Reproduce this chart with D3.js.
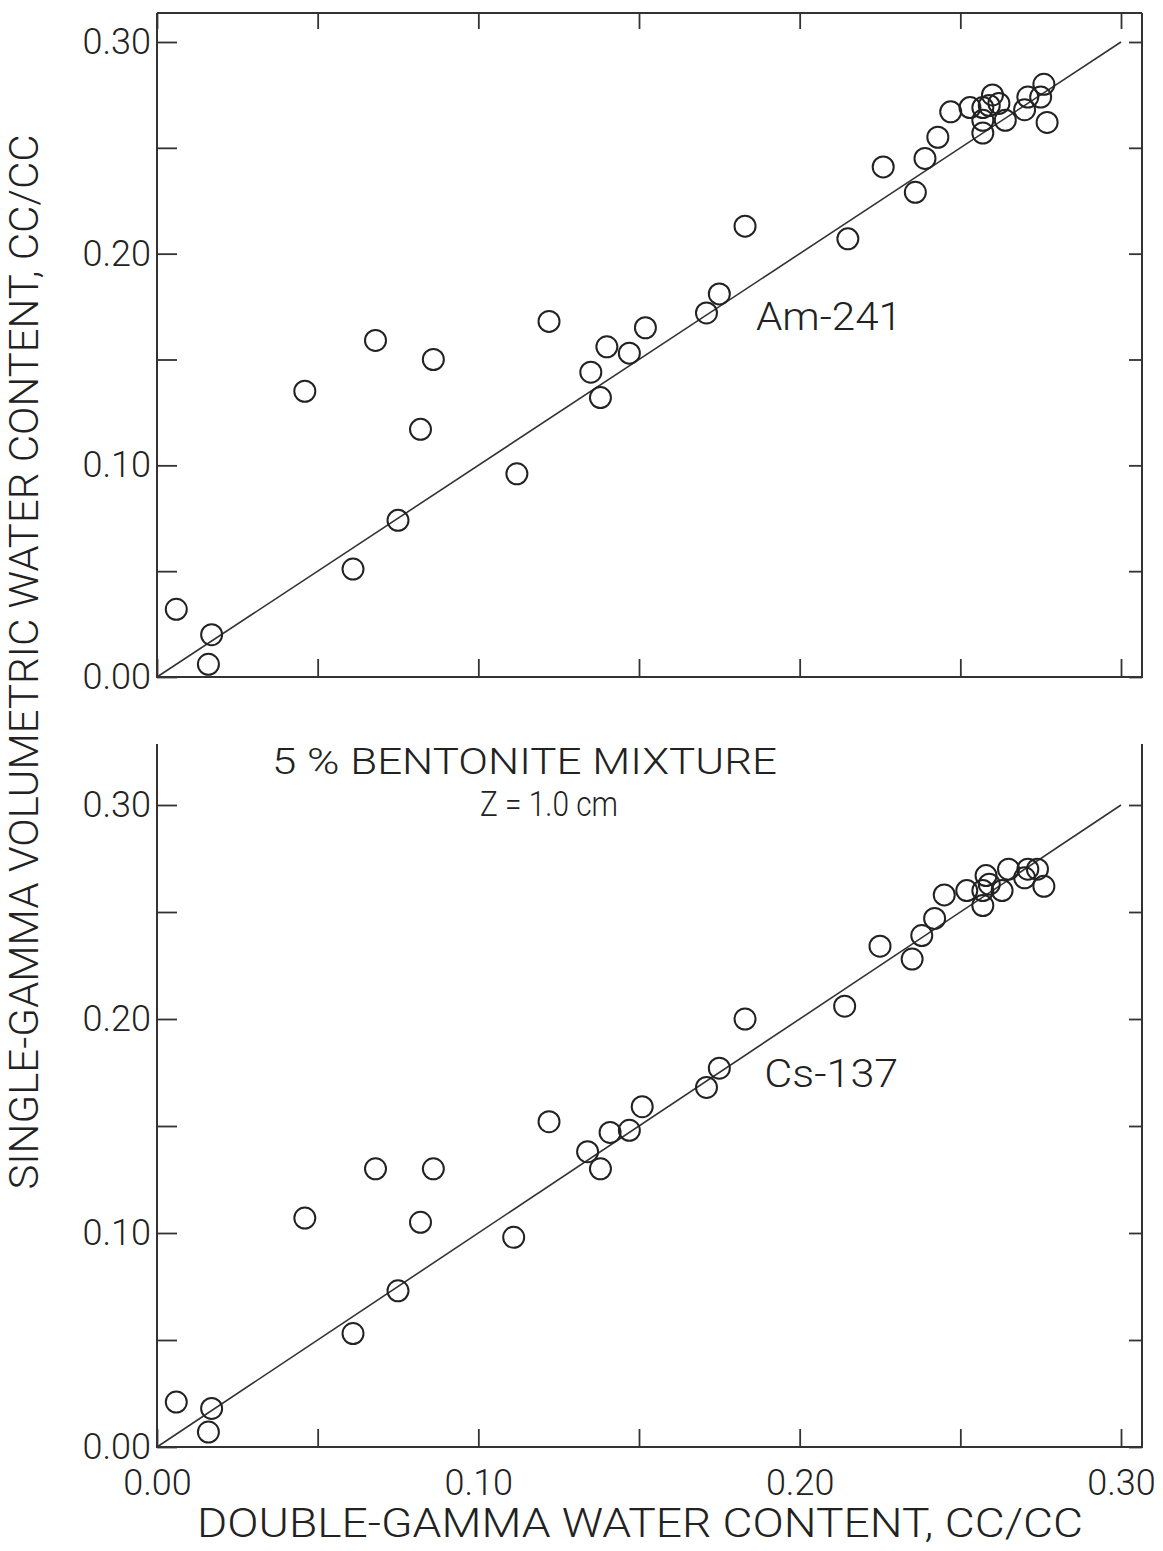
<!DOCTYPE html>
<html>
<head>
<meta charset="utf-8">
<script src="https://cdn.jsdelivr.net/npm/d3@7"></script>
<style>
  body { margin: 0; background: #fff; }
  text { font-family: Roboto, "Liberation Sans", sans-serif; font-weight: 300; fill: #222; }
</style>
</head>
<body>
<svg id="chart"></svg>
<script>
const width = 1163;
const height = 1551;

// Am-241 panel (double-gamma x, single-gamma y)
const amX = [0.006, 0.017, 0.016, 0.046, 0.061, 0.068, 0.075, 0.082, 0.086, 0.112,
             0.122, 0.135, 0.138, 0.140, 0.147, 0.152, 0.171, 0.175, 0.183, 0.215,
             0.226, 0.236, 0.239, 0.243, 0.247, 0.253, 0.260, 0.257, 0.259, 0.262,
             0.257, 0.257, 0.264, 0.270, 0.271, 0.275, 0.276, 0.277];
const amY = [0.032, 0.020, 0.006, 0.135, 0.051, 0.159, 0.074, 0.117, 0.150, 0.096,
             0.168, 0.144, 0.132, 0.156, 0.153, 0.165, 0.172, 0.181, 0.213, 0.207,
             0.241, 0.229, 0.245, 0.255, 0.267, 0.269, 0.275, 0.269, 0.270, 0.271,
             0.263, 0.257, 0.263, 0.268, 0.274, 0.274, 0.280, 0.262];

// Cs-137 panel
const csX = [0.006, 0.017, 0.016, 0.046, 0.061, 0.068, 0.075, 0.082, 0.086, 0.111,
             0.122, 0.134, 0.138, 0.141, 0.147, 0.151, 0.171, 0.175, 0.183, 0.214,
             0.225, 0.235, 0.238, 0.242, 0.245, 0.252, 0.258, 0.257, 0.257, 0.259,
             0.263, 0.265, 0.270, 0.271, 0.274, 0.276];
const csY = [0.021, 0.018, 0.007, 0.107, 0.053, 0.130, 0.073, 0.105, 0.130, 0.098,
             0.152, 0.138, 0.130, 0.147, 0.148, 0.159, 0.168, 0.177, 0.200, 0.206,
             0.234, 0.228, 0.239, 0.247, 0.258, 0.260, 0.267, 0.260, 0.253, 0.263,
             0.260, 0.270, 0.266, 0.270, 0.270, 0.262];

// 1:1 reference line
const fitX = [0, 0.30];
const fitY = [0, 0.30];

const tickVals = [0, 0.05, 0.10, 0.15, 0.20, 0.25, 0.30];
const labelVals = [0, 0.10, 0.20, 0.30];
const tickLabels = ['0.00', '0.10', '0.20', '0.30'];

const left = 157, right = 1142, xEnd = 1121;

const svg = d3.select('#chart')
    .attr('width', width)
    .attr('height', height);

const x = d3.scaleLinear().domain([0, 0.30]).range([left, xEnd]);

const fmt = d => {
    const i = labelVals.findIndex(v => Math.abs(v - d) < 1e-9);
    return i < 0 ? '' : tickLabels[i];
};

function panel(xs, ys, yBottom, yTop, frameTop, hasTopBorder, name, namePos) {
    const y = d3.scaleLinear().domain([0, 0.30]).range([yBottom, yTop]);
    const g = svg.append('g');

    // frame
    const frame = g.append('g').attr('stroke', '#333').attr('stroke-width', 2).attr('fill', 'none');
    frame.append('line').attr('x1', left).attr('x2', left).attr('y1', frameTop).attr('y2', yBottom + 1);
    frame.append('line').attr('x1', right).attr('x2', right).attr('y1', frameTop).attr('y2', yBottom + 1);
    frame.append('line').attr('x1', left).attr('x2', right).attr('y1', yBottom).attr('y2', yBottom);
    if (hasTopBorder) {
        frame.append('line').attr('x1', left).attr('x2', right).attr('y1', frameTop).attr('y2', frameTop);
    }

    const styleAxis = sel => {
        sel.select('.domain').remove();
        sel.selectAll('.tick line').attr('stroke', '#333').attr('stroke-width', 1.8);
        sel.selectAll('.tick text').style('font-size', '36px').attr('fill', '#222');
    };

    g.append('g').attr('transform', `translate(${left},0)`)
        .call(d3.axisLeft(y).tickValues(tickVals).tickSizeInner(-20).tickSizeOuter(0)
            .tickPadding(6).tickFormat(fmt))
        .call(styleAxis);

    g.append('g').attr('transform', `translate(${right},0)`)
        .call(d3.axisRight(y).tickValues(tickVals).tickSizeInner(-13).tickSizeOuter(0).tickFormat(''))
        .call(styleAxis);

    g.append('g').attr('transform', `translate(0,${yBottom})`)
        .call(d3.axisBottom(x).tickValues(tickVals).tickSizeInner(-18).tickSizeOuter(0)
            .tickPadding(22).tickFormat(name === 'Cs-137' ? fmt : ''))
        .call(styleAxis);

    if (hasTopBorder) {
        g.append('g').attr('transform', `translate(0,${frameTop})`)
            .call(d3.axisTop(x).tickValues(tickVals).tickSizeInner(-16).tickSizeOuter(0).tickFormat(''))
            .call(styleAxis);
    }

    const line = d3.line().x(d => x(d[0])).y(d => y(d[1]));
    g.append('path')
        .datum(fitX.map((v, i) => [v, fitY[i]]))
        .attr('d', line)
        .attr('fill', 'none')
        .attr('stroke', '#333')
        .attr('stroke-width', 1.6);

    g.selectAll('circle').data(xs.map((v, i) => [v, ys[i]]))
        .enter().append('circle')
        .attr('cx', d => x(d[0]))
        .attr('cy', d => y(d[1]))
        .attr('r', 10.5)
        .attr('fill', 'none')
        .attr('stroke', '#222')
        .attr('stroke-width', 2);

    g.append('text')
        .attr('x', x(namePos[0]))
        .attr('y', y(namePos[1]))
        .attr('textLength', namePos[2])
        .attr('lengthAdjust', 'spacingAndGlyphs')
        .style('font-size', '38px')
        .text(name);

    return y;
}

panel(amX, amY, 677, 42, 13, true, 'Am-241', [0.1864, 0.164, 146]);
const yB = panel(csX, csY, 1447, 805, 744, false, 'Cs-137', [0.189, 0.168, 134]);

// annotation in lower panel
svg.append('text')
    .attr('x', x(0.0358)).attr('y', yB(0.3145))
    .attr('textLength', 505).attr('lengthAdjust', 'spacingAndGlyphs')
    .style('font-size', '37px')
    .text('5 % BENTONITE MIXTURE');

svg.append('text')
    .attr('x', x(0.1005)).attr('y', yB(0.295))
    .attr('textLength', 138).attr('lengthAdjust', 'spacingAndGlyphs')
    .style('font-size', '35px')
    .text('Z = 1.0 cm');

// axis titles
svg.append('text')
    .attr('x', 640).attr('y', 1537)
    .attr('text-anchor', 'middle')
    .attr('textLength', 886).attr('lengthAdjust', 'spacingAndGlyphs')
    .style('font-size', '40px')
    .text('DOUBLE-GAMMA WATER CONTENT, CC/CC');

svg.append('text')
    .attr('transform', 'translate(38,662) rotate(-90)')
    .attr('text-anchor', 'middle')
    .attr('textLength', 1055).attr('lengthAdjust', 'spacingAndGlyphs')
    .style('font-size', '41px')
    .text('SINGLE-GAMMA VOLUMETRIC WATER CONTENT, CC/CC');
</script>
</body>
</html>
